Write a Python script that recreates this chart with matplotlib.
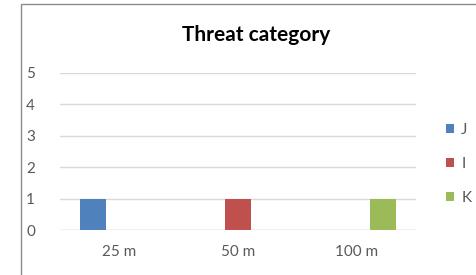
import numpy as np
import matplotlib.pyplot as plt
from matplotlib.patches import Rectangle

categories = ["25 m", "50 m", "100 m"]
seriesNames = ["J", "I", "K"]
seriesValues = [
    [1, 0, 0],
    [0, 1, 0],
    [0, 0, 1],
]
seriesColors = ["#4F81BD", "#C0504D", "#9BBB59"]

plt.rcParams['font.family'] = ['Lato', 'DejaVu Sans']

fig = plt.figure(figsize=(4.76, 2.75), dpi=100)
ax = fig.add_axes([60 / 476, 1 - 230 / 275, 356 / 476, 157 / 275])

# outer chart border (cropped on right and bottom)
fig.patches.append(Rectangle((21 / 476, -0.1), 1.2, 1 - 4 / 275 + 0.1,
                             transform=fig.transFigure, fill=False,
                             edgecolor="#8c8c8c", linewidth=1.0))

x = np.arange(len(categories))
barWidth = 0.219
offset = 0.2216
for i, (name, vals, color) in enumerate(zip(seriesNames, seriesValues, seriesColors)):
    ax.bar(x + (i - 1) * offset, vals, width=barWidth, color=color, label=name, zorder=3)

ax.set_xlim(-0.5, 2.5)
ax.set_ylim(0, 5)
ax.set_yticks(range(0, 6))
ax.set_xticks(x)
ax.set_xticklabels(categories)
ax.yaxis.grid(True, color="#d9d9d9", linewidth=1.0, zorder=0)
for s in ax.spines.values():
    s.set_visible(False)
ax.axhline(0, color="#d9d9d9", linewidth=1.0, zorder=1)
ax.tick_params(axis="both", length=0, labelsize=11, colors="#595959")
ax.tick_params(axis="y", pad=18)
ax.tick_params(axis="x", pad=11)

fig.text(256 / 476, 1 - 35 / 275, "Threat category", ha="center", va="center",
         fontsize=15, fontweight="bold", color="#000000")

leg = fig.legend(loc="center left", bbox_to_anchor=(446 / 476, 1 - 164 / 275),
                 frameon=False, fontsize=11, handlelength=0.55, handleheight=0.55,
                 handletextpad=0.45, labelspacing=1.3, borderpad=0, borderaxespad=0)
for t in leg.get_texts():
    t.set_color("#595959")

fig.savefig("out.png", dpi=100)
